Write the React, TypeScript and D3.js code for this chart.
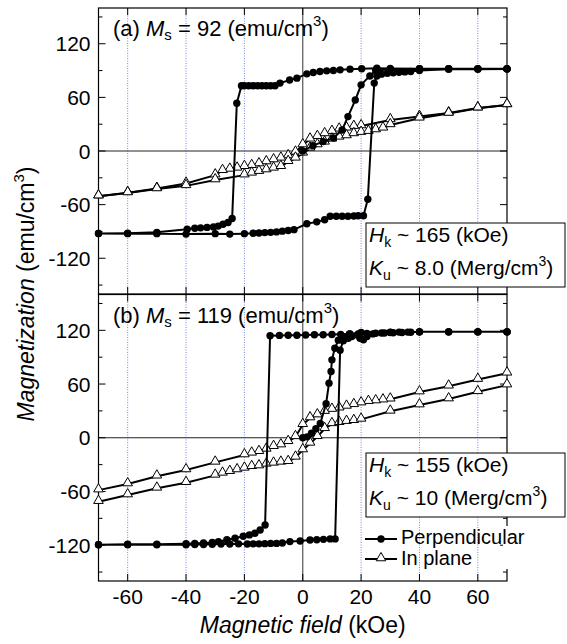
import React from 'react';
import * as d3 from 'd3';

// field (kOe), magnetization (emu/cm3) pairs
const perpAVirgin: [number, number][] = [[0, 0], [3.5, 6], [7, 10.5], [10.5, 14.5], [13.5, 23.5], [15.5, 38.5], [18, 57], [20, 74], [23, 84], [25, 90], [30, 91.5], [40, 92], [50, 92], [60, 92], [70, 92]];
const perpADown: [number, number][] = [[70, 92], [60, 92], [50, 92], [40, 92], [30, 92.3], [25.4, 92.6], [20.2, 92], [16.2, 91.6], [12.8, 90.8], [10.5, 90], [8.2, 89.7], [5.9, 89], [3.6, 87.8], [1.4, 86.3], [-2, 81.5], [-4.5, 79.5], [-7.8, 76], [-9.5, 73], [-11, 73], [-12.5, 73], [-14, 73], [-15.5, 73], [-17, 73], [-18.5, 73], [-20, 73], [-21, 73], [-22.6, 53.5], [-24.2, -75.5], [-25.6, -80], [-27.3, -82], [-29, -84], [-30.6, -85], [-32.8, -85.5], [-35, -86], [-37, -86.5], [-39.6, -87.5], [-50, -91], [-60, -92], [-70, -92.3]];
const perpAUp: [number, number][] = [[-70, -92.3], [-60, -92.5], [-50, -92.5], [-40, -93], [-30, -92.5], [-25, -93], [-20, -92.5], [-17, -92], [-15, -91.7], [-13, -91.3], [-11, -91], [-9, -90.5], [-7, -89.7], [-5, -89], [-3, -88], [1.4, -81.4], [4.8, -79.3], [7.5, -77], [9.4, -73], [11.5, -73], [13.5, -73], [15.5, -73], [17.5, -72.8], [19, -72.5], [20.8, -72.5], [22.3, -54], [24.5, 76], [25.4, 84], [27, 86], [29, 87], [31, 87.5], [33, 88], [35, 88.5], [37, 89], [40, 90], [50, 91.6], [60, 91.6], [70, 91.8]];

const planeADown: [number, number][] = [[70, 51.6], [60, 48], [50, 42.4], [40, 38.5], [30, 34.8], [20, 28], [17.5, 27.3], [15, 25.4], [12.5, 24.3], [10, 21.7], [7.5, 19.1], [5, 16], [2.5, 13.1], [0, 6.7], [-2.5, -1.5], [-5, -5.6], [-7.5, -8.2], [-10, -10.1], [-12.5, -12.3], [-15, -14.6], [-17.5, -16.5], [-20, -17.6], [-22.5, -19.4], [-25, -20.6], [-27.5, -22.1], [-30, -27], [-40, -36.3], [-50, -42], [-60, -46.7], [-70, -50.5]];
const planeAUp: [number, number][] = [[-70, -50.5], [-60, -47], [-50, -42.5], [-40, -39], [-30, -32.5], [-20, -27], [-17.5, -25], [-15, -23.1], [-12.5, -21.3], [-10, -19.4], [-7.5, -17.6], [-5, -12], [-2.5, -8.2], [0, -2.6], [2.5, 3], [5, 6.7], [7.5, 9.7], [10, 13.1], [12.5, 15.3], [15, 16.8], [17.5, 19.1], [20, 20.6], [22.5, 21.7], [25, 23.5], [27.5, 25.4], [30, 29.2], [40, 36.6], [50, 42], [60, 47.9], [70, 51.6]];

const perpBVirgin: [number, number][] = [[0, 0], [1.5, 1], [3, 5], [4.5, 10], [6, 16], [8, 38], [9, 61], [9.7, 74], [10, 87], [11, 100], [12.2, 109], [14, 113], [16.2, 116], [20, 117.5], [30, 118], [40, 118.3], [50, 118.3], [60, 118.3], [70, 118.3]];
const perpBDown: [number, number][] = [[70, 118.3], [60, 118.3], [50, 118.3], [40, 118.3], [37, 117.8], [34, 117.5], [31, 117.3], [28, 117], [25, 116.7], [22, 116.5], [19, 116], [16, 115.8], [13, 115.5], [10, 115.3], [7, 115], [4, 115], [1, 114.8], [-2, 114.5], [-5, 114.5], [-8, 114.3], [-11.2, 114], [-12.9, -97.4], [-14.6, -103], [-16.4, -106.7], [-18.3, -108.5], [-20.4, -110], [-23.2, -112.3], [-26, -114], [-28.9, -116], [-31, -117], [-34, -117.5], [-37, -118], [-40, -118.3], [-50, -119], [-60, -119], [-70, -119.5]];
const perpBUp: [number, number][] = [[-70, -119.5], [-60, -119.5], [-50, -119.5], [-40, -119.5], [-37, -119.3], [-34, -119.2], [-31, -119], [-28, -118.8], [-25, -118.7], [-22, -118.5], [-19, -118.7], [-17, -118.5], [-15, -118.5], [-13, -118.3], [-11, -118], [-9, -118], [-7, -117.5], [-4.4, -116], [-0.9, -115.3], [2.5, -114.2], [4.8, -114], [7.1, -113.5], [9.4, -113], [11.1, -113], [12.8, 97.8], [13.9, 108.3], [15.6, 111], [16.8, 113], [19.6, 111], [20.8, 109.5], [22, 113], [24, 116], [27, 117], [30, 117.5], [33, 118], [36, 118], [40, 118.3], [50, 118.3], [60, 118.3], [70, 118.3]];

const planeBDown: [number, number][] = [[70, 72], [60, 65], [50, 57.5], [40, 51], [30, 43], [27.5, 42], [25, 41], [22.5, 40.3], [20, 38.7], [17.5, 36.8], [15, 35], [12.5, 33], [10, 31.5], [7.5, 29.2], [5, 25.3], [2.5, 22], [0, 14.5], [-2.5, 1], [-5, -4.5], [-7.5, -8.2], [-10, -10], [-12.5, -13], [-15, -15.6], [-17.5, -17.4], [-20, -19.3], [-30, -27.5], [-40, -36], [-50, -43], [-60, -51.7], [-70, -58.5]];
const planeBUp: [number, number][] = [[-70, -71.4], [-60, -64], [-50, -56.5], [-40, -50.2], [-30, -42], [-27.5, -39.8], [-25, -37.9], [-22.5, -36], [-20, -34.2], [-17.5, -32.4], [-15, -31.6], [-12.5, -29.7], [-10, -28.6], [-7.5, -27.5], [-5, -26.8], [-2.5, -21.9], [0, -13.7], [2.5, -6.3], [5, 1.1], [7.5, 10], [10, 15.5], [12.5, 16.8], [15, 18], [17.5, 19], [20, 20.5], [30, 29.5], [40, 36.5], [50, 43.2], [60, 51.3], [70, 58.8]];

const xTicks = [-60, -40, -20, 0, 20, 40, 60];
const yTicks = [-120, -60, 0, 60, 120];
const yMinorTicks = [-150, -90, -30, 30, 90, 150];

const FONT = 'Liberation Sans, Arial, Helvetica, sans-serif';

const x = d3.scaleLinear().domain([-70, 70]).range([98.5, 507]);

const panels = [
  {
    y: d3.scaleLinear().domain([-160, 160]).range([294, 8]),
    perp: [...perpAVirgin, ...perpADown, ...perpAUp],
    plane: [planeADown, planeAUp],
    ms: '92', hk: '165', ku: '8.0', tag: '(a)',
    boxTop: 223,
  },
  {
    y: d3.scaleLinear().domain([-160, 160]).range([581, 294.5]),
    perp: [...perpBVirgin, ...perpBDown, ...perpBUp],
    plane: [planeBDown, planeBUp],
    ms: '119', hk: '155', ku: '10', tag: '(b)',
    boxTop: 453,
  },
];

const tri = d3.symbol(d3.symbolTriangle, 40)();

const Panel = ({ p }: { p: typeof panels[0] }) => {
  const { y, boxTop } = p;
  const [y0, y1] = y.range();
  const [x0, x1] = x.range();
  const line = d3.line<[number, number]>().x(d => x(d[0])).y(d => y(d[1]));
  return (
    <g>
      {/* dotted grid */}
      {xTicks.filter(t => t !== 0).map(t => (
        <line key={t} x1={x(t)} x2={x(t)} y1={y1} y2={y0} stroke="#7388d8" strokeWidth={1} strokeDasharray="1 1.5" />
      ))}
      <line x1={x(0)} x2={x(0)} y1={y1} y2={y0} stroke="#555" strokeWidth={1.2} />
      <line x1={x0} x2={x1} y1={y(0)} y2={y(0)} stroke="#222" strokeWidth={1} />

      {/* ticks */}
      {xTicks.map(t => (
        <g key={t}>
          <line x1={x(t)} x2={x(t)} y1={y0} y2={y0 - 7} stroke="#000" />
          <line x1={x(t)} x2={x(t)} y1={y1} y2={y1 + 7} stroke="#000" />
        </g>
      ))}
      {yTicks.map(t => (
        <g key={t}>
          <line x1={x0} x2={x0 + 7} y1={y(t)} y2={y(t)} stroke="#000" />
          <line x1={x1} x2={x1 - 7} y1={y(t)} y2={y(t)} stroke="#000" />
          <text x={x0 - 8} y={y(t) + 7.5} textAnchor="end" fontSize={21}>{t}</text>
        </g>
      ))}
      {yMinorTicks.map(t => (
        <g key={t}>
          <line x1={x0} x2={x0 + 4} y1={y(t)} y2={y(t)} stroke="#000" />
          <line x1={x1} x2={x1 - 4} y1={y(t)} y2={y(t)} stroke="#000" />
        </g>
      ))}
      <rect x={x0} y={y1} width={x1 - x0} height={y0 - y1} fill="none" stroke="#000" strokeWidth={1.2} />

      {/* in-plane */}
      {p.plane.map((br, i) => (
        <g key={i}>
          <path d={line(br) || ''} fill="none" stroke="#000" strokeWidth={2} />
          {br.map((d, j) => (
            <path key={j} d={tri || ''} transform={`translate(${x(d[0])},${y(d[1]) - 1})`} fill="#fff" stroke="#000" strokeWidth={1} />
          ))}
        </g>
      ))}

      {/* perpendicular */}
      <path d={line(p.perp) || ''} fill="none" stroke="#000" strokeWidth={2} />
      {p.perp.map((d, j) => (
        <circle key={j} cx={x(d[0])} cy={y(d[1])} r={3.7} fill="#000" />
      ))}

      {/* title */}
      <text x={113} y={y1 + 28} fontSize={22}>
        {p.tag} <tspan fontStyle="italic">M</tspan><tspan fontSize={15} dy={4}>s</tspan>
        <tspan dy={-4}> = {p.ms} (emu/cm</tspan><tspan fontSize={15} dy={-10}>3</tspan><tspan dy={10}>)</tspan>
      </text>

      {/* anisotropy box */}
      <rect x={366} y={boxTop} width={199} height={64} fill="#fff" stroke="#000" strokeWidth={1} />
      <text x={369} y={boxTop + 19} fontSize={21}>
        <tspan fontStyle="italic">H</tspan><tspan fontSize={14} dy={5}>k</tspan><tspan dy={-5}> ~ {p.hk} (kOe)</tspan>
      </text>
      <text x={369} y={boxTop + 52} fontSize={21}>
        <tspan fontStyle="italic">K</tspan><tspan fontSize={14} dy={5}>u</tspan><tspan dy={-5}> ~ {p.ku} (Merg/cm</tspan>
        <tspan fontSize={14} dy={-9}>3</tspan><tspan dy={9}>)</tspan>
      </text>
    </g>
  );
};

export default function App() {
  const legendY = [539, 559];
  return (
    <svg width={567} height={644} style={{ position: 'absolute', left: 0, top: 0, background: '#fff' }} fontFamily={FONT}>
      {panels.map((p, i) => <Panel key={i} p={p} />)}

      {/* x tick labels */}
      {xTicks.map(t => (
        <text key={t} x={x(t)} y={604} textAnchor="middle" fontSize={21}>{t}</text>
      ))}
      <text x={x(0)} y={633} textAnchor="middle" fontSize={23}>
        <tspan fontStyle="italic">Magnetic field</tspan> (kOe)
      </text>
      <text transform="translate(34,294) rotate(-90)" textAnchor="middle" fontSize={23}>
        <tspan fontStyle="italic">Magnetization</tspan> (emu/cm<tspan fontSize={15} dy={-10}>3</tspan><tspan dy={10}>)</tspan>
      </text>

      {/* legend (its background hides the frame behind the text) */}
      <rect x={503} y={526} width={8} height={43} fill="#fff" />
      <line x1={365} x2={397} y1={legendY[0]} y2={legendY[0]} stroke="#000" strokeWidth={2} />
      <circle cx={381} cy={legendY[0]} r={3.7} fill="#000" />
      <text x={401} y={legendY[0] + 4.5} fontSize={20}>Perpendicular</text>
      <line x1={365} x2={397} y1={legendY[1]} y2={legendY[1]} stroke="#000" strokeWidth={2} />
      <path d={tri || ''} transform={`translate(381,${legendY[1] - 1})`} fill="#fff" stroke="#000" strokeWidth={1} />
      <text x={401} y={legendY[1] + 6} fontSize={20}>In plane</text>
    </svg>
  );
}
